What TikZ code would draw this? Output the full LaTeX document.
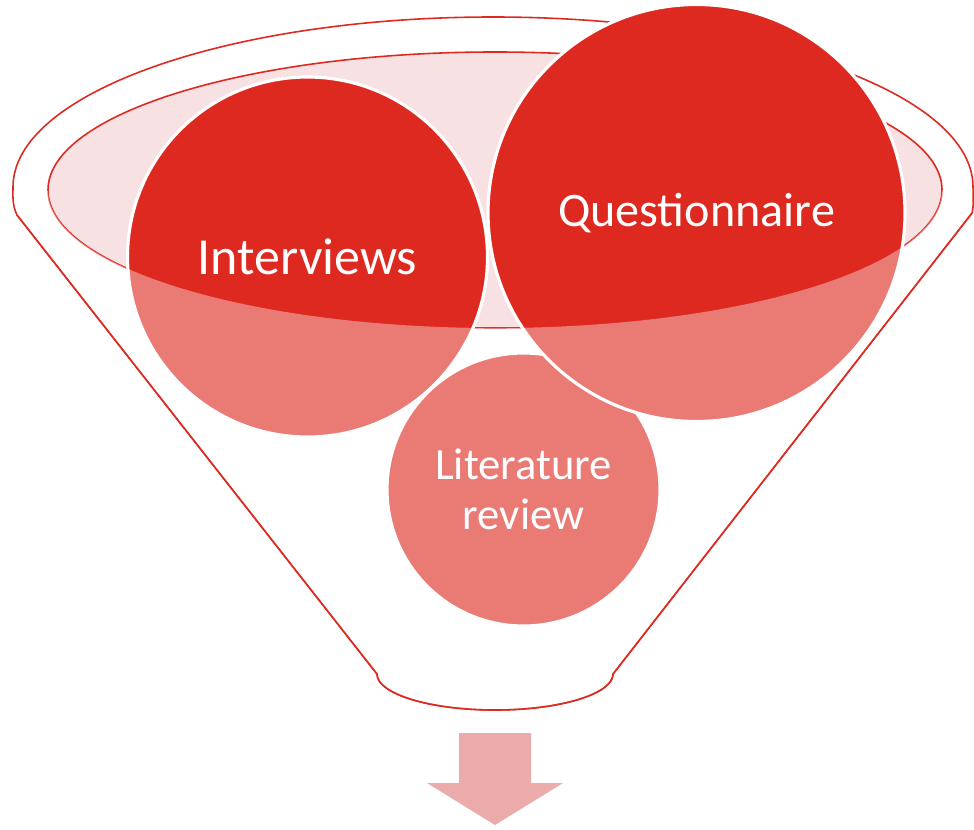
\documentclass[tikz,border=0pt]{standalone}
\usepackage{fontspec}
\setmainfont{Carlito}
\definecolor{funnelred}{HTML}{DE2920}
\definecolor{rimpink}{HTML}{F7E1E2}
\definecolor{arrowpink}{HTML}{EBABAB}

\begin{document}
\begin{tikzpicture}[
  rim/.style={draw=funnelred,line width=0.45pt},
  bubble/.style={circle,fill=funnelred,draw=white,line width=0.9pt,inner sep=0pt,text=white,align=center}]
\useasboundingbox (0,0) rectangle (9.74,-8.29);

\coordinate (lk) at (0.17,-2.15);
\coordinate (rk) at (9.72,-2.13);
\coordinate (blk) at (3.77,-6.74);
\coordinate (brk) at (6.13,-6.74);

% funnel outline
\draw[rim,fill=white] (lk) .. controls (0.12,-2.05) and (0.13,-1.95) .. (0.13,-1.87)
  arc[start angle=180,end angle=0,x radius=4.8,y radius=1.7]
  .. controls (9.73,-1.95) and (9.74,-2.05) .. (rk)
  -- (brk) arc[start angle=0,end angle=-180,x radius=1.18,y radius=0.36] -- cycle;

% mouth
\draw[rim,fill=rimpink] (4.95,-1.9) ellipse[x radius=4.47,y radius=1.38];

\node[bubble,minimum size=2.73cm,font=\fontsize{12.7}{14.2}\selectfont] (lit) at (5.235,-4.895) {Literature\\review};
\node[bubble,minimum size=3.6cm,font=\fontsize{14.8}{17}\selectfont] (int) at (3.075,-2.57) {Interviews};
\node[bubble,minimum size=4.17cm,font=\fontsize{13.7}{16}\selectfont] (que) at (6.965,-2.13) {Questionnaire};

% front of the funnel
\fill[white,opacity=0.38] (0.48,-1.9) arc[start angle=180,end angle=360,x radius=4.47,y radius=1.38]
  -- (rk) -- (brk) arc[start angle=0,end angle=-180,x radius=1.18,y radius=0.36] -- (lk) -- cycle;
\draw[rim] (lk) -- (blk) arc[start angle=180,end angle=360,x radius=1.18,y radius=0.36] -- (rk);

\fill[arrowpink] (4.59,-7.33) -- (5.31,-7.33) -- (5.31,-7.83) -- (5.63,-7.83) -- (4.95,-8.25)
  -- (4.27,-7.83) -- (4.59,-7.83) -- cycle;
\end{tikzpicture}
\end{document}
